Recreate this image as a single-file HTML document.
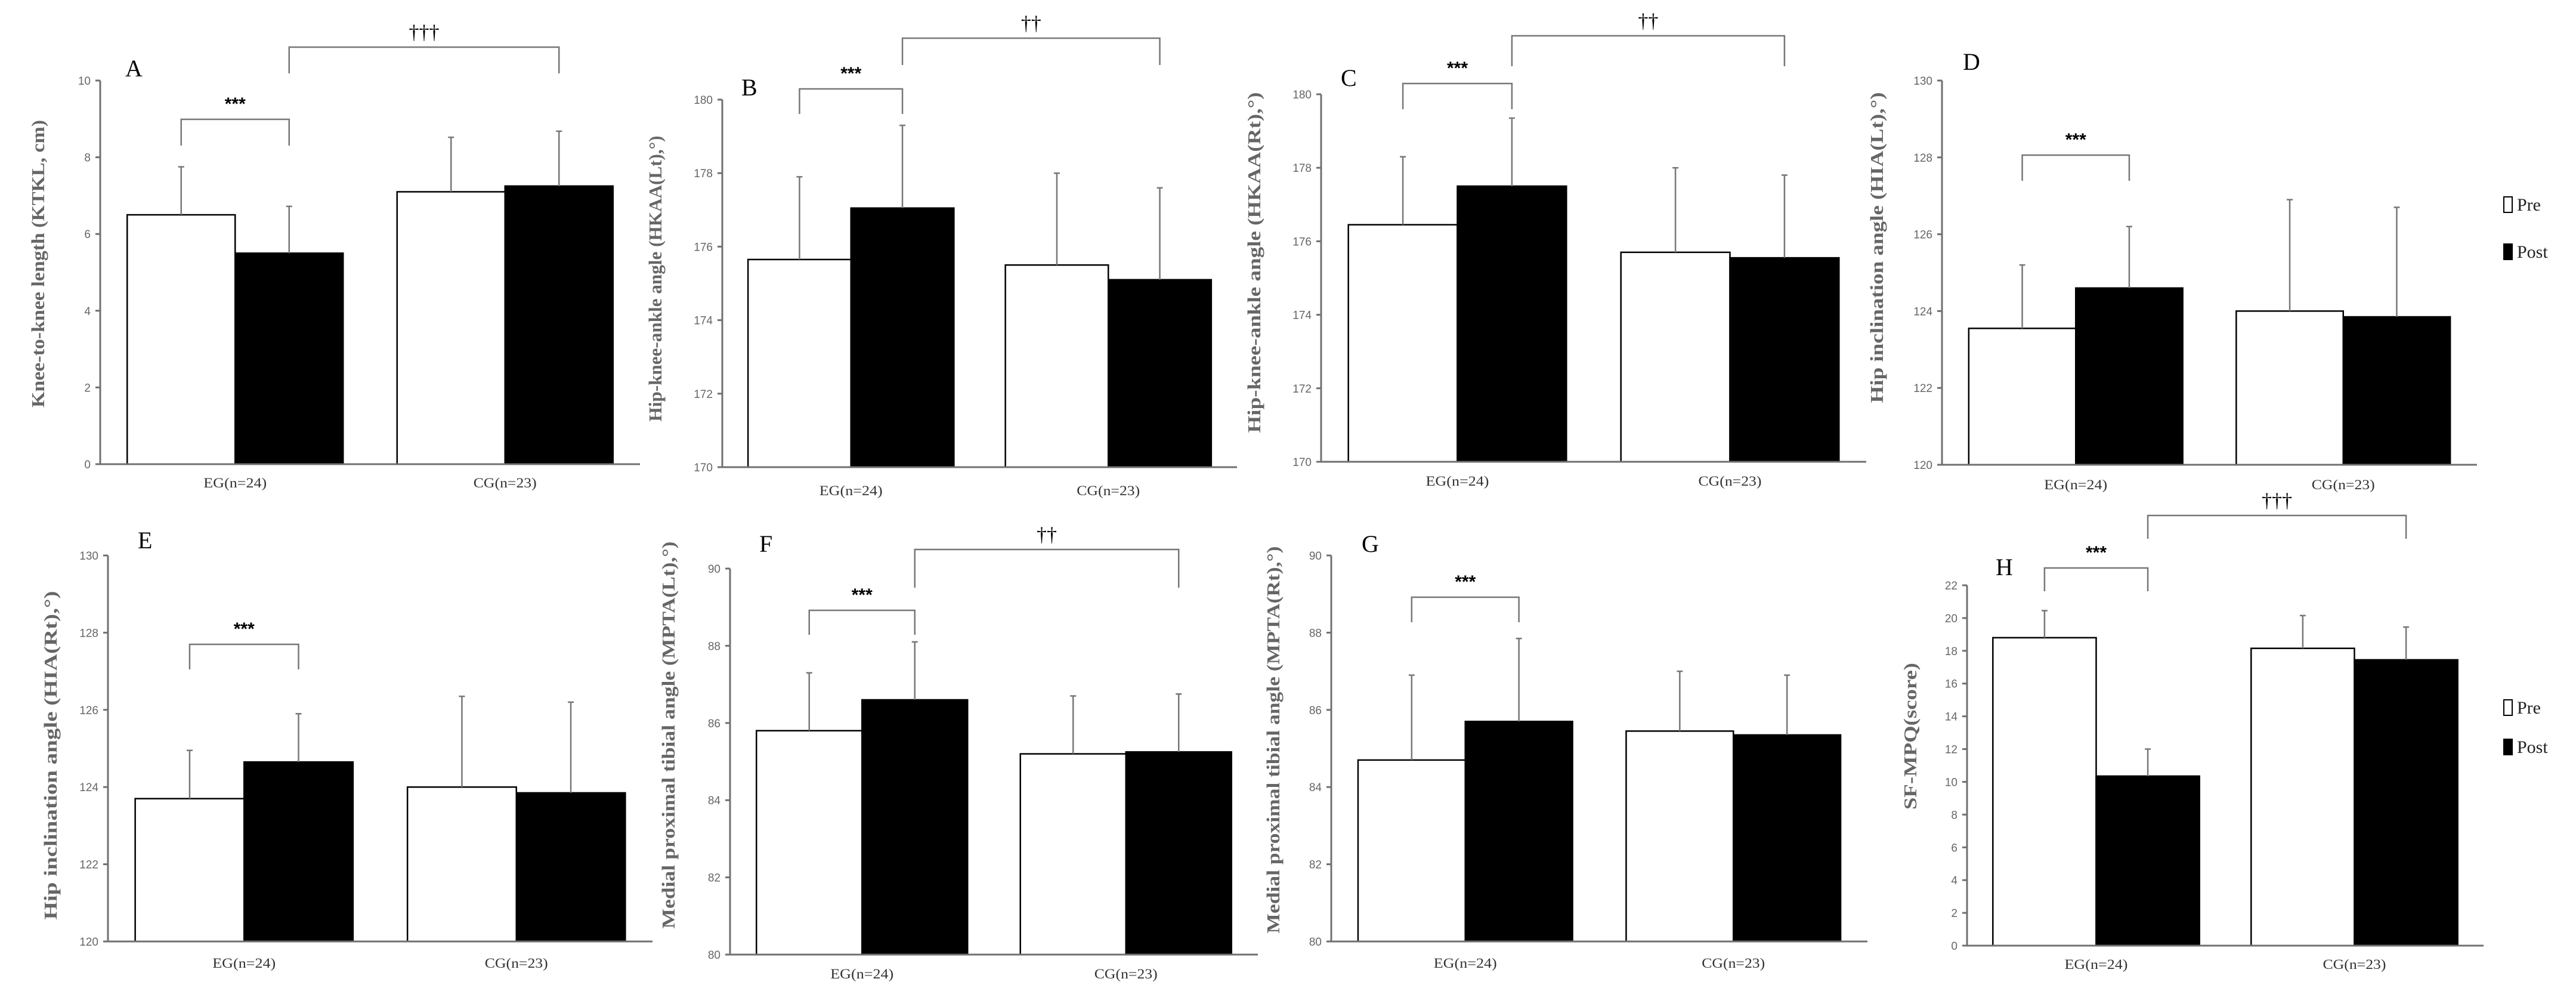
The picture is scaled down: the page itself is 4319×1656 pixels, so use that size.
<!DOCTYPE html>
<html><head><meta charset="utf-8"><style>
html,body{margin:0;padding:0;background:#fff;}
svg{display:block;}
</style></head><body>
<svg id="fig" width="4319" height="1656" viewBox="0 0 4319 1656" xmlns="http://www.w3.org/2000/svg"></svg>
<script>
// ---- data ----
const categories = ["EG(n=24)", "CG(n=23)"];
const seriesNames = ["Pre", "Post"];
const aPre = [6.5, 7.1];       const aPost = [5.5, 7.25];
const aPreErr = [7.75, 8.52];  const aPostErr = [6.72, 8.68];
const aTicks = [0, 2, 4, 6, 8, 10];
const bPre = [175.65, 175.5];  const bPost = [177.05, 175.1];
const bPreErr = [177.9, 178.0]; const bPostErr = [179.3, 177.6];
const bTicks = [170, 172, 174, 176, 178, 180];
const cPre = [176.45, 175.7];  const cPost = [177.5, 175.55];
const cPreErr = [178.3, 178.0]; const cPostErr = [179.35, 177.8];
const cTicks = [170, 172, 174, 176, 178, 180];
const dPre = [123.55, 124.0];  const dPost = [124.6, 123.85];
const dPreErr = [125.2, 126.9]; const dPostErr = [126.2, 126.7];
const dTicks = [120, 122, 124, 126, 128, 130];
const ePre = [123.7, 124.0];   const ePost = [124.65, 123.85];
const ePreErr = [124.95, 126.35]; const ePostErr = [125.9, 126.2];
const eTicks = [120, 122, 124, 126, 128, 130];
const fPre = [85.8, 85.2];     const fPost = [86.6, 85.25];
const fPreErr = [87.3, 86.7];  const fPostErr = [88.1, 86.75];
const fTicks = [80, 82, 84, 86, 88, 90];
const gPre = [84.7, 85.45];    const gPost = [85.7, 85.35];
const gPreErr = [86.9, 87.0];  const gPostErr = [87.85, 86.9];
const gTicks = [80, 82, 84, 86, 88, 90];
const hPre = [18.8, 18.15];    const hPost = [10.35, 17.45];
const hPreErr = [20.45, 20.15]; const hPostErr = [12.0, 19.45];
const hTicks = [0, 2, 4, 6, 8, 10, 12, 14, 16, 18, 20, 22];

// ---- layout (pixels) ----
const panels = [
 {id:"a",L:"A",pre:aPre,post:aPost,preE:aPreErr,postE:aPostErr,ticks:aTicks,x0:168,x1:1073,yT:135,yB:778,lx:210,ly:114,
  yl:"Knee-to-knee length (KTKL, cm)",ylx:63,yly:442,ylw:482,cat:810,s1:200,s1leg:244,s2:79,s2leg:123,d:"†††"},
 {id:"b",L:"B",pre:bPre,post:bPost,preE:bPreErr,postE:bPostErr,ticks:bTicks,x0:1211,x1:2074,yT:167,yB:783,lx:1243,ly:146,
  yl:"Hip-knee-ankle angle (HKAA(Lt),°)",ylx:1098,yly:467,ylw:479,cat:823,s1:149,s1leg:191,s2:64,s2leg:109,d:"††"},
 {id:"c",L:"C",pre:cPre,post:cPost,preE:cPreErr,postE:cPostErr,ticks:cTicks,x0:2215,x1:3129,yT:158,yB:774,lx:2248,ly:130,
  yl:"Hip-knee-ankle angle (HKAA(Rt),°)",ylx:2102,yly:440,ylw:571,cat:807,s1:140,s1leg:183,s2:60,s2leg:111,d:"††"},
 {id:"d",L:"D",pre:dPre,post:dPost,preE:dPreErr,postE:dPostErr,ticks:dTicks,x0:3256,x1:4153,yT:135,yB:779,lx:3291,ly:103,
  yl:"Hip inclination angle (HIA(Lt),°)",ylx:3146,yly:415,ylw:521,cat:813,s1:260,s1leg:303,legend:[343,422]},
 {id:"e",L:"E",pre:ePre,post:ePost,preE:ePreErr,postE:ePostErr,ticks:eTicks,x0:181,x1:1094,yT:931,yB:1578,lx:231,ly:905,
  yl:"Hip inclination angle (HIA(Rt),°)",ylx:84,yly:1266,ylw:551,cat:1615,s1:1080,s1leg:1122},
 {id:"f",L:"F",pre:fPre,post:fPost,preE:fPreErr,postE:fPostErr,ticks:fTicks,x0:1224,x1:2109,yT:953,yB:1600,lx:1273,ly:911,
  yl:"Medial proximal tibial angle (MPTA(Lt),°)",ylx:1120,yly:1232,ylw:649,cat:1633,s1:1023,s1leg:1064,s2:921,s2leg:985,d:"††"},
 {id:"g",L:"G",pre:gPre,post:gPost,preE:gPreErr,postE:gPostErr,ticks:gTicks,x0:2232,x1:3131,yT:931,yB:1578,lx:2283,ly:911,
  yl:"Medial proximal tibial angle (MPTA(Rt),°)",ylx:2134,yly:1240,ylw:649,cat:1615,s1:1001,s1leg:1043},
 {id:"h",L:"H",pre:hPre,post:hPost,preE:hPreErr,postE:hPostErr,ticks:hTicks,x0:3298,x1:4164,yT:981,yB:1585,lx:3346,ly:950,
  yl:"SF-MPQ(score)",ylx:3202,yly:1234,ylw:246,cat:1617,s1:952,s1leg:991,s2:864,s2leg:903,d:"†††",legend:[1186,1252]}
];

const NS = "http://www.w3.org/2000/svg";
const svg = document.getElementById("fig");
function mk(tag, attrs, parent){
  const e = document.createElementNS(NS, tag);
  for (const k in attrs) e.setAttribute(k, attrs[k]);
  (parent||svg).appendChild(e);
  return e;
}
const AX = "#707070";
panels.forEach(p=>{
  const g = mk("g",{});
  
  
  const lo = p.ticks[0], hi = p.ticks[p.ticks.length-1];
  const y = v => p.yB - (v-lo)/(hi-lo)*(p.yB-p.yT);
  const w = p.x1 - p.x0;
  const cx = i => p.x0 + w*(i+0.5)/2;
  const bw = 0.2*w;
  // axes
  const ya = mk("line",{x1:p.x0,y1:p.yT,x2:p.x0,y2:p.yB,stroke:AX,"stroke-width":3},g);
  
  
  p.ticks.forEach(t=>{
    mk("line",{x1:p.x0-8,y1:y(t),x2:p.x0,y2:y(t),stroke:AX,"stroke-width":3},g);
    const tl = mk("text",{x:p.x0-16,y:y(t)+7,"text-anchor":"end","font-family":"Liberation Sans, sans-serif","font-size":19,fill:"#666"},g);
    tl.textContent = t;
    
    
  });
  // bars
  categories.forEach((c,i)=>{
    const vals = [[p.pre[i],p.preE[i],"#fff"],[p.post[i],p.postE[i],"#000"]];
    vals.forEach((v,j)=>{
      const bx = cx(i) - bw + j*bw;
      const r = mk("rect",{x:bx,y:y(v[0]),width:bw,height:p.yB-y(v[0]),fill:v[2],stroke:"#000","stroke-width":2.5},g);
      
      
      const ex = bx + bw/2;
      const el = mk("path",{d:`M${ex},${y(v[0])} V${y(v[1])} M${ex-5},${y(v[1])} H${ex+5}`,stroke:"#777","stroke-width":2.5,fill:"none"},g);
      
      
    });
    const ct = mk("text",{x:cx(i),y:p.cat+7,"text-anchor":"middle","font-family":"Liberation Serif, serif","font-size":23,fill:"#333",textLength:106,lengthAdjust:"spacingAndGlyphs"},g);
    ct.textContent = c;
    
    
  });
  const xa = mk("line",{x1:p.x0,y1:p.yB,x2:p.x1,y2:p.yB,stroke:AX,"stroke-width":3},g);
  
  
  // panel letter
  const lt = mk("text",{x:p.lx,y:p.ly+14,"font-family":"Liberation Serif, serif","font-size":40,fill:"#000"},g);
  lt.textContent = p.L;
  
  
  // y label
  const yl = mk("text",{x:0,y:0,transform:`translate(${p.ylx+11},${p.yly}) rotate(-90)`,"text-anchor":"middle","font-family":"Liberation Serif, serif","font-weight":"bold","font-size":31,fill:"#666",textLength:p.ylw,lengthAdjust:"spacingAndGlyphs"},g);
  yl.textContent = p.yl;
  
  
  // *** bracket
  const a1 = cx(0)-bw/2, a2 = cx(0)+bw/2;
  const br = mk("path",{d:`M${a1},${p.s1leg} V${p.s1} H${a2} V${p.s1leg}`,stroke:"#777","stroke-width":2.5,fill:"none"},g);
  
  
  const st = mk("text",{x:(a1+a2)/2,y:p.s1-16,"text-anchor":"middle","font-family":"Liberation Sans, sans-serif","font-weight":"bold","font-size":30,fill:"#000"},g);
  st.textContent = "***";
  
  
  if (p.d){
    const b1 = cx(0)+bw/2, b2 = cx(1)+bw/2;
    const br2 = mk("path",{d:`M${b1},${p.s2leg} V${p.s2} H${b2} V${p.s2leg}`,stroke:"#777","stroke-width":2.5,fill:"none"},g);
    
    
    const dg = mk("text",{x:(b1+b2)/2,y:p.s2-14,"text-anchor":"middle","font-family":"Liberation Serif, serif","font-size":34,fill:"#000"},g);
    dg.textContent = p.d;
    
    
  }
  if (p.legend){
    seriesNames.forEach((s,k)=>{
      const ly = p.legend[k];
      const lx = 4198;
      const sw = mk("rect",{x:lx,y:ly-13,width:14,height:26,fill:k?"#000":"#fff",stroke:"#000","stroke-width":2},g);
      
      
      const tx = mk("text",{x:lx+22,y:ly+10,"font-family":"Liberation Serif, serif","font-size":30,fill:"#222"},g);
      tx.textContent = s;
      
      
    });
  }
});
</script>
</body></html>
